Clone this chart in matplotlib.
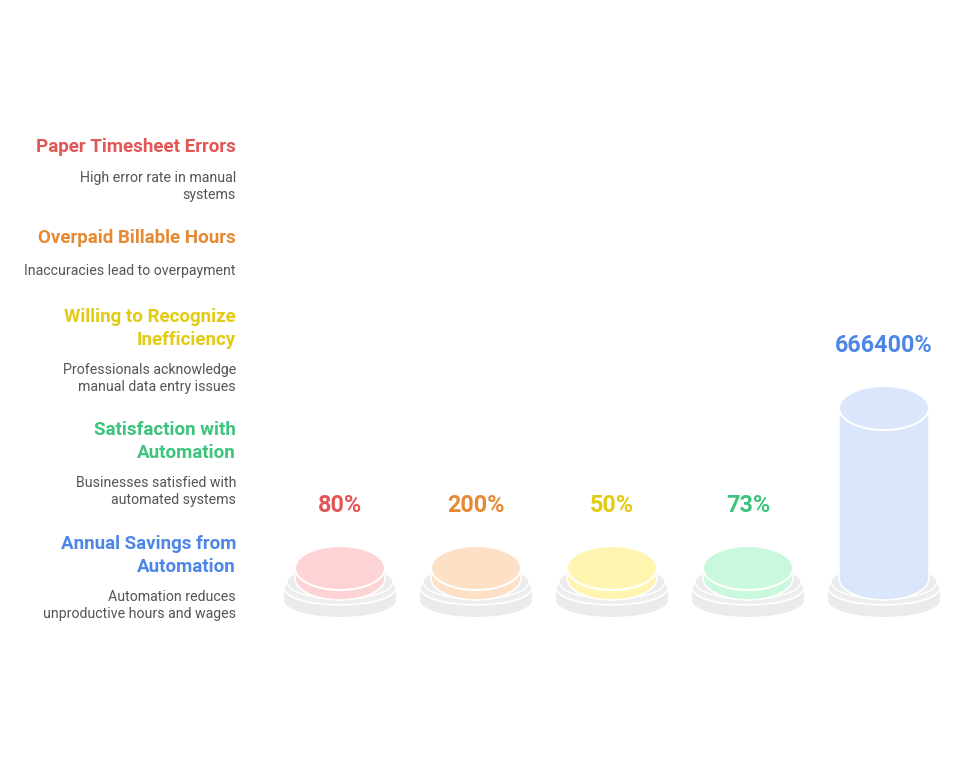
import matplotlib
matplotlib.use("Agg")
import matplotlib.pyplot as plt
from matplotlib.patches import Ellipse, Rectangle

plt.rcParams['font.family'] = ['Roboto', 'DejaVu Sans']

# ---- data ----
titles = [["Paper Timesheet Errors"],
          ["Overpaid Billable Hours"],
          ["Willing to Recognize", "Inefficiency"],
          ["Satisfaction with", "Automation"],
          ["Annual Savings from", "Automation"]]
descriptions = [["High error rate in manual", "systems"],
                ["Inaccuracies lead to overpayment"],
                ["Professionals acknowledge", "manual data entry issues"],
                ["Businesses satisfied with", "automated systems"],
                ["Automation reduces", "unproductive hours and wages"]]
values = [80, 200, 50, 73, 666400]
value_labels = ["80%", "200%", "50%", "73%", "666400%"]
text_colors = ["#e35656", "#e58a33", "#e2cb12", "#3cc47c", "#4d86e6"]
fill_colors = ["#fdd3d5", "#fde0c6", "#fff5b0", "#c9f8de", "#dae6fb"]

# ---- layout ----
W, H = 975, 759
fig = plt.figure(figsize=(W / 100, H / 100), dpi=100)
ax = fig.add_axes([0, 0, 1, 1])
ax.set_xlim(0, W)
ax.set_ylim(H, 0)
ax.axis('off')

x0, dx = 340, 136
cyl_w, ell_h = 90, 44
base_cy = 578
max_h, min_h = 170, 10
vmax = max(values)

for i, (v, lab, fc, tc) in enumerate(zip(values, value_labels, fill_colors, text_colors)):
    cx = x0 + i * dx
    # plate
    gray = "#ebebeb"
    ax.add_patch(Ellipse((cx, 600), 112, 34, fc=gray, ec='none', zorder=1))
    ax.add_patch(Rectangle((cx - 56, 588), 112, 12, fc=gray, ec='none', zorder=1))
    ax.add_patch(Ellipse((cx, 588), 112, 34, fc="#eeeeee", ec='white', lw=1.2, zorder=1))
    ax.add_patch(Ellipse((cx, 582), 106, 34, fc="#ececec", ec='white', lw=1.0, zorder=1))
    # cylinder
    h = max(min_h, v / vmax * max_h)
    top = base_cy - h
    ax.add_patch(Ellipse((cx, base_cy), cyl_w, ell_h, fc=fc, ec='white', lw=1.2, zorder=2))
    ax.add_patch(Rectangle((cx - cyl_w / 2, top), cyl_w, h, fc=fc, ec='none', zorder=2))
    ax.plot([cx - cyl_w / 2, cx - cyl_w / 2], [top, base_cy], color='white', lw=1.2, zorder=2)
    ax.plot([cx + cyl_w / 2, cx + cyl_w / 2], [top, base_cy], color='white', lw=1.2, zorder=2)
    ax.add_patch(Ellipse((cx, top), cyl_w, ell_h, fc=fc, ec='white', lw=1.5, zorder=3))
    ax.text(cx, top - 62, lab, ha='center', va='center', fontsize=16.8,
            fontweight='bold', color=tc, zorder=4)

# left text
tx = 236
title_y = [147, 238, 317, 430, 544]
desc_y = [178, 271, 370, 483, 597]
for i in range(5):
    for j, line in enumerate(titles[i]):
        ax.text(tx, title_y[i] + j * 23, line, ha='right', va='center', fontsize=13.5,
                fontweight='bold', color=text_colors[i])
    for j, line in enumerate(descriptions[i]):
        ax.text(tx, desc_y[i] + j * 17, line, ha='right', va='center', fontsize=10.15,
                color="#555555")

fig.savefig("out.png", dpi=100, facecolor='white')
